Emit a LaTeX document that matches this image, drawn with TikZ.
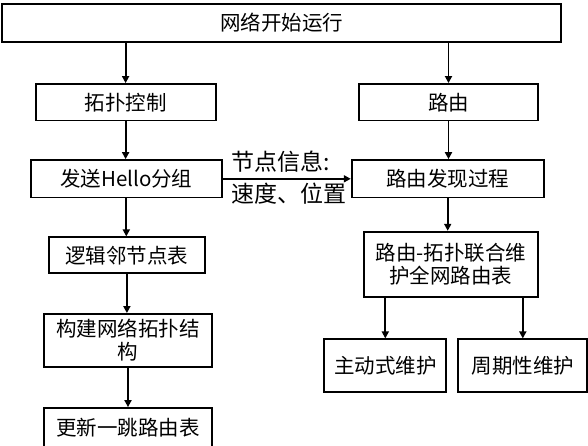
\documentclass[tikz,border=0pt]{standalone}
\usepackage{fontspec}
\newfontfamily\cjk{Noto Sans CJK SC}
\usetikzlibrary{arrows.meta}
\begin{document}
\begin{tikzpicture}[x=1pt,y=-1pt,
  box/.style={draw, line width=1.8pt, inner sep=0pt, align=center,
    font=\cjk\fontsize{20.5}{23.5}\selectfont},
  arr/.style={line width=1.8pt, -{Triangle[length=7pt,width=7pt]}},
  lab/.style={inner sep=0pt, anchor=west, font=\cjk\fontsize{23}{26}\selectfont}]
\useasboundingbox (0,0) rectangle (588,445);
\node[box, minimum width=559pt, minimum height=38pt] (top) at (281.5,23) {网络开始运行};
\node[box, minimum width=180pt, minimum height=36.4pt] (tuopu) at (125.6,102.2) {拓扑控制};
\node[box, minimum width=179pt, minimum height=36.5pt] (luyou) at (448.5,102.2) {路由};
\node[box, minimum width=191pt, minimum height=37.5pt] (hello) at (126.3,178.8) {发送Hello分组};
\node[box, minimum width=192pt, minimum height=37.5pt] (faxian) at (447.7,178.8) {路由发现过程};
\node[box, minimum width=156pt, minimum height=36pt] (luoji) at (126.9,255.3) {逻辑邻节点表};
\node[box, minimum width=168pt, minimum height=52.7pt] (goujian) at (128,340.3) {构建网络拓扑结\\构};
\node[box, minimum width=167.7pt, minimum height=39pt] (gengxin) at (127.8,427.5) {更新一跳路由表};
\node[box, minimum width=173.7pt, minimum height=65pt] (lianhe) at (450.9,264.2) {路由-拓扑联合维\\护全网路由表};
\node[box, minimum width=122pt, minimum height=52.4pt] (zhudong) at (385.3,365.5) {主动式维护};
\node[box, minimum width=129pt, minimum height=52.4pt] (zhouqi) at (522.8,365.5) {周期性维护};
\draw[arr] (tuopu.north |- top.south) -- (tuopu.north);
\draw[arr] (luyou.north |- top.south) -- (luyou.north);
\draw[arr] (tuopu.south) -- (tuopu.south |- hello.north);
\draw[arr] (hello.south) -- (hello.south |- luoji.north);
\draw[arr] (luoji.south) -- (luoji.south |- goujian.north);
\draw[arr] (goujian.south) -- (goujian.south |- gengxin.north);
\draw[arr] (luyou.south) -- (luyou.south |- faxian.north);
\draw[arr] (faxian.south) -- (faxian.south |- lianhe.north);
\draw[arr] (zhudong.north |- lianhe.south) -- (zhudong.north);
\draw[arr] (zhouqi.north |- lianhe.south) -- (zhouqi.north);
\draw[arr] (hello.east) -- (faxian.west);
\node[lab] (lab1) at (231,162) {节点信息:};
\node[lab] (lab2) at (231,194) {速度、位置};
\end{tikzpicture}
\end{document}
